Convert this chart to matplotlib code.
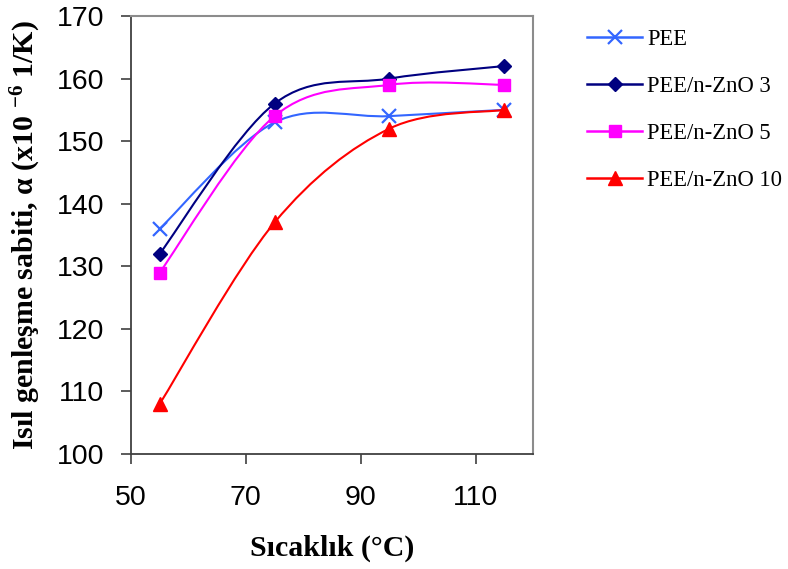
import numpy as np
import matplotlib
matplotlib.use("Agg")
import matplotlib.pyplot as plt
from matplotlib.path import Path
from matplotlib.patches import PathPatch
from matplotlib.lines import Line2D

# Temperature (°C) and thermal expansion coefficient values
temperature = [55, 75, 95, 115]
pee = [136, 153, 154, 155]
pee_zno3 = [132, 156, 160, 162]
pee_zno5 = [129, 154, 159, 159]
pee_zno10 = [108, 137, 152, 155]

series_labels = ["PEE", "PEE/n-ZnO 3", "PEE/n-ZnO 5", "PEE/n-ZnO 10"]
series_values = [pee, pee_zno3, pee_zno5, pee_zno10]
series_colors = ["#3366FF", "#000080", "#FF00FF", "#FF0000"]
series_markers = ["x", "D", "s", "^"]
series_msize = [9.5, 6.8, 8.5, 10]

x_ticks = [50, 70, 90, 110]
y_ticks = [100, 110, 120, 130, 140, 150, 160, 170]

plt.rcParams["mathtext.fontset"] = "custom"
plt.rcParams["mathtext.rm"] = "Liberation Serif:bold"
plt.rcParams["mathtext.bf"] = "Liberation Serif:bold"
plt.rcParams["mathtext.it"] = "Liberation Serif:bold:italic"


def smooth_path(xs, ys):
    """Cubic Bezier path through the points (Catmull-Rom style smoothing)."""
    pts = np.column_stack([xs, ys]).astype(float)
    n = len(pts)
    verts = [pts[0]]
    codes = [Path.MOVETO]
    for i in range(n - 1):
        p0 = pts[i - 1] if i > 0 else pts[i]
        p1 = pts[i]
        p2 = pts[i + 1]
        p3 = pts[i + 2] if i + 2 < n else pts[i + 1]
        c1 = p1 + (p2 - p0) / 6.0
        c2 = p2 - (p3 - p1) / 6.0
        verts += [c1, c2, p2]
        codes += [Path.CURVE4] * 3
    return Path(verts, codes)


fig = plt.figure(figsize=(7.88, 5.69), dpi=100)
ax = fig.add_axes([0.1662, 0.2021, 0.5102, 0.7698])

handles = []
for vals, lab, col, mk, ms in zip(series_values, series_labels, series_colors,
                                  series_markers, series_msize):
    patch = PathPatch(smooth_path(temperature, vals), facecolor="none",
                      edgecolor=col, linewidth=1.5, zorder=2)
    ax.add_patch(patch)
    mew = 1.6 if mk == "x" else 1.0
    ax.plot(temperature, vals, linestyle="none", marker=mk, markersize=ms,
            color=col, markeredgecolor=col, markeredgewidth=mew, zorder=3)
    handles.append(Line2D([], [], color=col, linewidth=1.8, marker=mk,
                          markersize=ms, markeredgewidth=mew, label=lab))

ax.set_xlim(50, 120)
ax.set_ylim(100, 170)
ax.set_xticks(x_ticks)
ax.set_yticks(y_ticks)
ax.tick_params(axis="both", direction="out", length=7.2, width=1.2,
               color="#404040", labelsize=20.5)
ax.tick_params(axis="y", pad=12)
ax.tick_params(axis="x", pad=15)
for lbl in ax.get_xticklabels() + ax.get_yticklabels():
    lbl.set_fontfamily("Liberation Sans")

for side in ["left", "bottom"]:
    ax.spines[side].set_color("#404040")
    ax.spines[side].set_linewidth(1.3)
for side in ["top", "right"]:
    ax.spines[side].set_color("#8c8c8c")
    ax.spines[side].set_linewidth(1.5)

ax.set_xlabel("Sıcaklık (°C)", fontfamily="Liberation Serif",
              fontweight="bold", fontsize=21.5, labelpad=17)
ax.set_ylabel(r"Isıl genleşme sabiti, α (x10 $^{-6}$ 1/K)",
              fontfamily="Liberation Serif", fontweight="bold", fontsize=21.5,
              labelpad=10)

fig.legend(handles=handles, loc="center left",
           bbox_to_anchor=(587 / 788, 1 - 110 / 569),
           frameon=False, prop={"family": "Liberation Serif", "size": 16.3},
           handlelength=2.43, labelspacing=1.16, handletextpad=0.22,
           borderpad=0, borderaxespad=0)

fig.savefig("out.png", dpi=100)
